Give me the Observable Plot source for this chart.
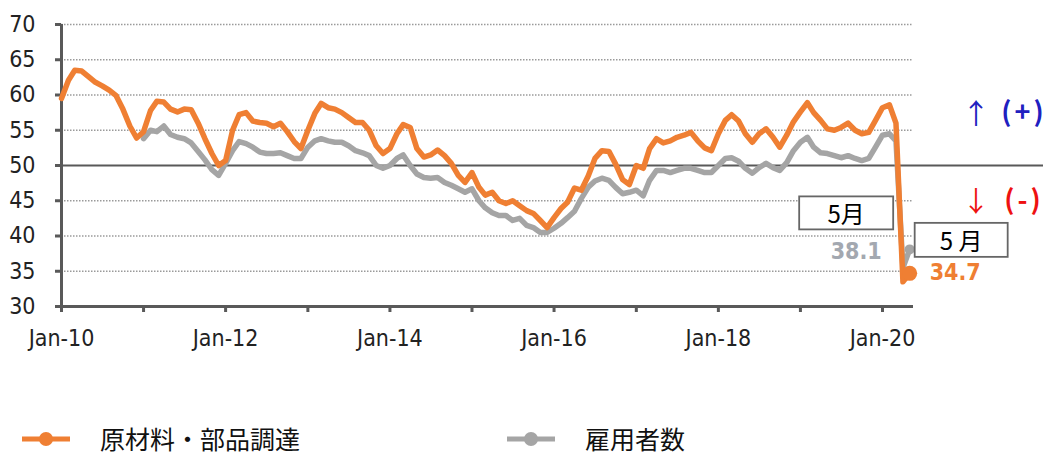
<!DOCTYPE html>
<html><head><meta charset="utf-8">
<script src="https://cdn.jsdelivr.net/npm/d3@7"></script>
<script src="https://cdn.jsdelivr.net/npm/@observablehq/plot@0.6"></script>
<style>
body{margin:0;background:#fff;overflow:hidden;}
#chart svg g[aria-label="y-axis tick"], #chart svg g[aria-label="x-axis tick"]{stroke:#595959;}
#legend{position:relative;width:1050px;height:33px;font-family:"Noto Sans CJK JP",sans-serif;font-size:25px;line-height:33px;color:#111;}
#legend .item{position:absolute;top:0;height:33px;display:flex;align-items:center;}
#legend .item span{white-space:nowrap;}
</style></head><body>
<div id="chart"></div>
<div id="legend"></div>
<script>
// ---- data ----
const seriesNames = ["原材料・部品調達", "雇用者数"];
const seriesColors = ["#EF7F33", "#A5A5A5"];
const procurementStart = [2010, 0];
const procurement = [
  59.5, 62.1, 63.5, 63.4, 62.6, 61.8, 61.3, 60.7, 59.9, 58.0, 55.6, 53.9,
  54.8, 57.8, 59.1, 59.0, 58.0, 57.6, 58.0, 57.9, 56.0, 53.8, 51.7, 50.0,
  50.7, 55.0, 57.2, 57.5, 56.3, 56.1, 56.0, 55.5, 56.0, 54.8, 53.4, 52.4,
  55.0, 57.4, 58.8, 58.2, 58.0, 57.5, 56.8, 56.1, 56.1, 55.0, 52.8, 51.7,
  52.4, 54.5, 55.8, 55.4, 52.4, 51.2, 51.5, 52.2, 51.4, 50.3, 48.6, 47.6,
  49.0, 46.9, 45.8, 46.2, 45.0, 44.6, 45.0, 44.3, 43.6, 43.2, 42.2, 41.2,
  42.6, 43.9, 44.8, 46.8, 46.5, 48.5, 51.0, 52.1, 52.0, 50.2, 48.0, 47.3,
  50.0, 49.6, 52.4, 53.8, 53.2, 53.5, 54.0, 54.3, 54.7, 53.5, 52.5, 52.1,
  54.5, 56.4, 57.2, 56.3, 54.5, 53.3, 54.5, 55.2, 54.0, 52.6, 54.3, 56.2,
  57.6, 58.9, 57.5, 56.4, 55.2, 55.0, 55.4, 56.0, 55.0, 54.5, 54.7, 56.4,
  58.2, 58.6, 56.0, 33.5, 34.7
];
const employmentStart = [2011, 0];
const employment = [
  53.8, 55.0, 54.8, 55.6, 54.4, 54.0, 53.8, 53.2, 52.0, 50.8, 49.4, 48.6,
  50.3, 52.1, 53.4, 53.1, 52.6, 51.9, 51.7, 51.7, 51.8, 51.4, 51.0, 51.0,
  52.6, 53.5, 53.8, 53.5, 53.3, 53.3, 52.8, 52.1, 51.8, 51.4, 50.0, 49.6,
  50.0, 51.0, 51.5, 50.0, 48.8, 48.3, 48.2, 48.3, 47.6, 47.2, 46.7, 46.2,
  46.7, 45.0, 44.0, 43.3, 42.9, 42.9, 42.2, 42.5, 41.5, 41.2, 40.5, 40.5,
  41.1, 41.8, 42.6, 43.5, 45.3, 46.9, 47.8, 48.2, 47.9, 46.9, 46.0, 46.2,
  46.5, 45.7, 47.9, 49.3, 49.3, 49.0, 49.3, 49.6, 49.6, 49.3, 49.0, 49.0,
  50.0, 51.0, 51.1, 50.6, 49.6, 48.9, 49.7, 50.3, 49.7, 49.3, 50.4, 52.1,
  53.3, 54.0, 52.6, 51.8, 51.7, 51.4, 51.1, 51.4, 51.0, 50.7, 51.0, 52.6,
  54.3, 54.5, 53.5, 35.5, 38.1
];
const yTicks = [30, 35, 40, 45, 50, 55, 60, 65, 70];
const gridValues = [35, 40, 45, 55, 60, 65, 70];
const tickYears = [2010, 2011, 2012, 2013, 2014, 2015, 2016, 2017, 2018, 2019, 2020];
const xTickLabels = ["Jan-10", "Jan-12", "Jan-14", "Jan-16", "Jan-18", "Jan-20"];
const endValueLabels = ["34.7", "38.1"];
const monthNoteGray = "5月";
const monthNoteOrange = "5 月";
const upNote = ["↑", "(+)"];
const downNote = ["↓", "(-)"];

// ---- build rows ----
const toRows = (vals, [y0, m0], series) => vals.map((v, i) => ({date: new Date(Date.UTC(y0, m0 + i, 1)), value: v, series}));
const procRows = toRows(procurement, procurementStart, seriesNames[0]);
const empRows = toRows(employment, employmentStart, seriesNames[1]);
const yearTickDates = tickYears.map(y => new Date(Date.UTC(y, 0, 1)));

const W = 1050, H = 422;
const axisFont = '"Liberation Sans Narrow","DejaVu Sans Condensed","Roboto Condensed",sans-serif';
const plot = Plot.plot({
  width: W, height: H,
  marginLeft: 61, marginRight: 137, marginTop: 24, marginBottom: H - 306,
  style: {fontFamily: axisFont, background: "#fff", overflow: "visible"},
  x: {type: "utc", domain: [new Date(Date.UTC(2010, 0, 1)), new Date(Date.UTC(2020, 4, 18))], label: null},
  y: {domain: [30, 70], label: null},
  marks: [
    Plot.gridY(gridValues, {stroke: "#9a9a9a", strokeOpacity: 1, strokeWidth: 1.6, strokeDasharray: "1.5,1.5"}),
    Plot.ruleY([50], {stroke: "#595959", strokeWidth: 2.2, insetLeft: -6, insetRight: -130}),
    Plot.ruleY([30], {stroke: "#595959", strokeWidth: 3, insetLeft: -6}),
    Plot.ruleX([yearTickDates[0]], {stroke: "#595959", strokeWidth: 3, insetBottom: -6}),
    Plot.axisY(yTicks, {tickSize: 6, tickPadding: 20, strokeWidth: 3, fontSize: 23, color: "#222", label: null}),
    Plot.axisX(yearTickDates, {tickSize: 6, tickPadding: 17, strokeWidth: 3, fontSize: 23, color: "#222", label: null,
      tickFormat: d => { const y = d.getUTCFullYear(); return (y - tickYears[0]) % 2 === 0 ? xTickLabels[(y - tickYears[0]) / 2] : ""; }}),
    Plot.line(empRows, {x: "date", y: "value", stroke: seriesColors[1], strokeWidth: 5.5}),
    Plot.line(procRows, {x: "date", y: "value", stroke: seriesColors[0], strokeWidth: 5.5}),
    Plot.dot([empRows[empRows.length - 1]], {x: "date", y: "value", r: 5, fill: seriesColors[1]}),
    Plot.dot([procRows[procRows.length - 1]], {x: "date", y: "value", r: 7.5, fill: seriesColors[0]})
  ]
});
document.getElementById("chart").appendChild(plot);

// ---- annotations using the plot's scales ----
const xs = plot.scale("x"), ys = plot.scale("y");
const svg = d3.select(plot);
const lastP = procRows[procRows.length - 1], lastE = empRows[empRows.length - 1];
const px = xs.apply(lastP.date);
const pyO = ys.apply(lastP.value), pyE = ys.apply(lastE.value);
const y50 = ys.apply(50);
const xr = xs.range[1];
const ann = svg.append("g");
function box(cx, cy, w, h, label) {
  ann.append("rect").attr("x", cx - w / 2).attr("y", cy - h / 2).attr("width", w).attr("height", h)
    .attr("fill", "#fff").attr("stroke", "#666").attr("stroke-width", 1.8);
  ann.append("text").attr("x", cx).attr("y", cy).attr("text-anchor", "middle").attr("dominant-baseline", "central")
    .attr("font-family", '"Noto Sans CJK JP",sans-serif').attr("font-size", 24).attr("fill", "#000").text(label);
}
// value labels
ann.append("text").attr("x", px - 53).attr("y", pyE + 2).attr("text-anchor", "middle").attr("dominant-baseline", "central")
  .attr("font-family", axisFont).attr("font-weight", "bold").attr("font-size", 23).attr("fill", "#A3A8B0").text(endValueLabels[1]);
ann.append("text").attr("x", px + 46).attr("y", pyO - 1).attr("text-anchor", "middle").attr("dominant-baseline", "central")
  .attr("font-family", axisFont).attr("font-weight", "bold").attr("font-size", 23).attr("fill", seriesColors[0]).text(endValueLabels[0]);
box(px - 63, pyE - 36, 94, 33, monthNoteGray);
box(px + 52, pyO - 33, 93, 34, monthNoteOrange);
// direction notes
function note(dy, parts, color) {
  ann.append("text").attr("x", xr + 63).attr("y", y50 + dy).attr("text-anchor", "middle").attr("dominant-baseline", "central")
    .attr("font-family", '"Noto Sans CJK JP",sans-serif').attr("font-size", 28).attr("fill", color).text(parts[0]);
  ann.append("text").attr("x", xr + 111).attr("y", y50 + dy - 2).attr("text-anchor", "middle").attr("dominant-baseline", "central")
    .attr("font-family", '"Noto Sans CJK JP",sans-serif').attr("font-weight", "bold").attr("font-size", 27).attr("letter-spacing", 3)
    .attr("fill", color).text(parts[1]);
}
note(-53, upNote, "#2020C0");
note(35, downNote, "#EE1111");

// ---- legend ----
const legend = d3.select("#legend");
const legendPos = [[22, 100], [507, 585]];
seriesNames.forEach((name, i) => {
  const item = legend.append("div").attr("class", "item").style("left", legendPos[i][0] + "px");
  const s = item.append("svg").attr("width", 48).attr("height", 20);
  s.append("line").attr("x1", 0).attr("x2", 48).attr("y1", 10).attr("y2", 10).attr("stroke", seriesColors[i]).attr("stroke-width", 5);
  s.append("circle").attr("cx", 24).attr("cy", 10).attr("r", 7).attr("fill", seriesColors[i]);
  legend.append("div").attr("class", "item").style("left", legendPos[i][1] + "px").append("span").text(name);
});
</script>
</body></html>
